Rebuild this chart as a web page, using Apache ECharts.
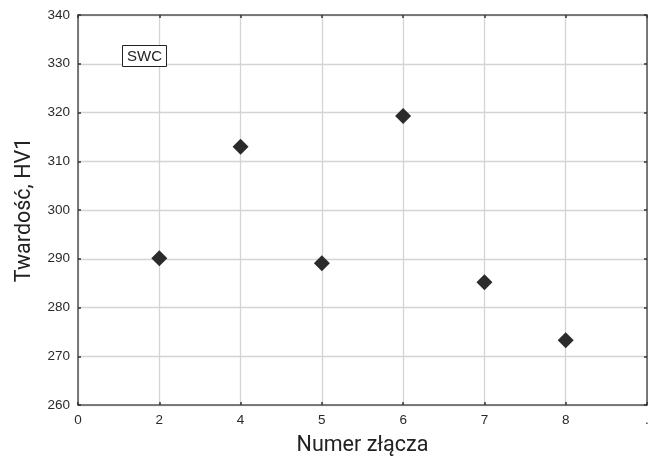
<!DOCTYPE html>
<html>
<head>
<meta charset="utf-8">
<script src="https://cdn.jsdelivr.net/npm/echarts@6/dist/echarts.min.js"></script>
<style>html,body{margin:0;padding:0;background:#fff;overflow:hidden;}#c{width:648px;height:459px;}</style>
</head>
<body>
<div id="c"></div>
<script>
var categories = ['0', '2', '4', '5', '6', '7', '8', '.'];
var hardness = [null, 290.1, 313.0, 289.1, 319.3, 285.2, 273.3, null];
var yMin = 260, yMax = 340, yStep = 10;
var xTitle = 'Numer złącza';
var yTitle = 'Twardość, HV1';
var boxLabel = 'SWC';

var chart = echarts.init(document.getElementById('c'));
var axisLine = {show: true, lineStyle: {color: '#555', width: 1.5}};
var tick = {show: true, inside: true, length: 3, lineStyle: {color: '#333', width: 1.5}};
var grid = {show: true, lineStyle: {color: '#d4d4d4', width: 1.3}};
var lbl = {fontFamily: 'Liberation Sans', fontSize: 13.5, color: '#2a2a2a'};
chart.setOption({
  animation: false,
  backgroundColor: '#fff',
  title: {
    text: boxLabel, left: 122, top: 45,
    padding: [4, 5, 3, 5], borderColor: '#222', borderWidth: 1, backgroundColor: '#fff',
    textStyle: {fontFamily: 'Liberation Sans', fontSize: 15, fontWeight: 'normal', color: '#222'}
  },
  grid: {left: 78, right: 1, top: 15, bottom: 54, containLabel: false, outerBoundsMode: 'none'},
  xAxis: [{
    type: 'category', data: categories, boundaryGap: false,
    axisLine: axisLine, axisTick: Object.assign({alignWithLabel: true}, tick), splitLine: grid,
    axisLabel: Object.assign({margin: 8}, lbl),
    name: xTitle, nameLocation: 'middle', nameGap: 30,
    nameTextStyle: {fontFamily: 'Roboto', fontSize: 21.5, color: '#222'}
  }, {
    type: 'category', data: categories, boundaryGap: false, position: 'top',
    axisLine: axisLine, axisTick: tick, axisLabel: {show: false}, splitLine: {show: false}
  }],
  yAxis: [{
    type: 'value', min: yMin, max: yMax, interval: yStep,
    axisLine: axisLine, axisTick: tick, splitLine: grid,
    axisLabel: Object.assign({margin: 8}, lbl),
    name: yTitle, nameLocation: 'middle', nameGap: 42,
    nameTextStyle: {fontFamily: 'Roboto', fontSize: 21.5, color: '#222'}
  }, {
    type: 'value', min: yMin, max: yMax, interval: yStep, position: 'right',
    axisLine: axisLine, axisTick: tick, axisLabel: {show: false}, splitLine: {show: false}
  }],
  series: [{
    type: 'scatter', data: hardness, symbol: 'diamond', symbolSize: 16,
    itemStyle: {color: '#2b2b2b', opacity: 1}
  }]
});
</script>
</body>
</html>
